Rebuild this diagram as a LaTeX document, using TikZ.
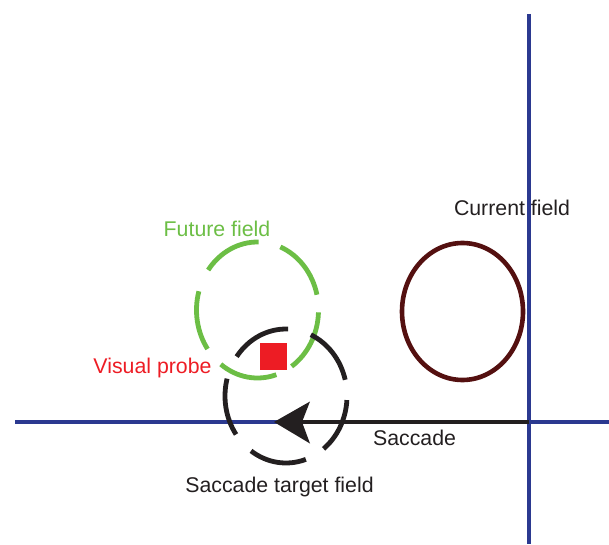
\documentclass[tikz,border=0pt]{standalone}
\usepackage{fontspec}
\setmainfont{Liberation Sans}
\definecolor{axisblue}{RGB}{43,57,144}
\definecolor{curbrown}{RGB}{84,16,16}
\definecolor{futgreen}{RGB}{108,190,69}
\definecolor{probered}{RGB}{237,28,36}
\definecolor{txtgray}{RGB}{35,31,32}
\begin{document}
\begin{tikzpicture}[x=1pt,y=1pt,
  lbl/.style={font=\fontsize{21.3}{25}\selectfont, inner sep=0pt},
  axis/.style={draw=axisblue, line width=3.8pt},
  fielddash/.style={line width=4.8pt},
]
\useasboundingbox (0,0) rectangle (609,544);
% coordinates
\coordinate (hl) at (15,122);
\coordinate (hr) at (609,122);
\coordinate (vt) at (529,530);
\coordinate (vb) at (529,0);
\coordinate (cross) at (529,122);
\coordinate (tip) at (274,122);
\coordinate (notch) at (302,122);
% axes
\draw[axis] (hl) -- (hr);
\draw[axis] (vt) -- (vb);
% saccade arrow
\draw[txtgray, line width=4.2pt] (cross) -- (notch);
\fill[txtgray] (tip) -- (310,142.5) -- (notch) -- (310,100.5) -- cycle;
% current field
\draw[curbrown, line width=4.6pt] (462.5,232.5) ellipse [x radius=60.5, y radius=68.5];
% future field (dashed)
\coordinate (fc) at (257.5,234);
\foreach \a/\b in {13/68, 89/144, 164/215, 233/288, 304/358}{
  \draw[futgreen, fielddash] (fc) ++(\a:61 and 68) arc[start angle=\a, end angle=\b, x radius=61, y radius=68];
}
% saccade target field (dashed)
\coordinate (sc) at (286,148);
\foreach \a/\b in {14/66, 88/144, 165/215, 235/289, 308/356.5}{
  \draw[txtgray, fielddash] (sc) ++(\a:61 and 67) arc[start angle=\a, end angle=\b, x radius=61, y radius=67];
}
% visual probe
\fill[probered] (260,174) rectangle (287,201);
% labels
\node[lbl, text=futgreen] (future) at (217,315) {Future field};
\node[lbl, text=probered] (probe) at (152.5,176) {Visual probe};
\node[lbl, text=txtgray] (current) at (512,336) {Current field};
\node[lbl, text=txtgray] (saccade) at (414.5,106) {Saccade};
\node[lbl, text=txtgray] (target) at (279.5,57) {Saccade target field};
\end{tikzpicture}
\end{document}
